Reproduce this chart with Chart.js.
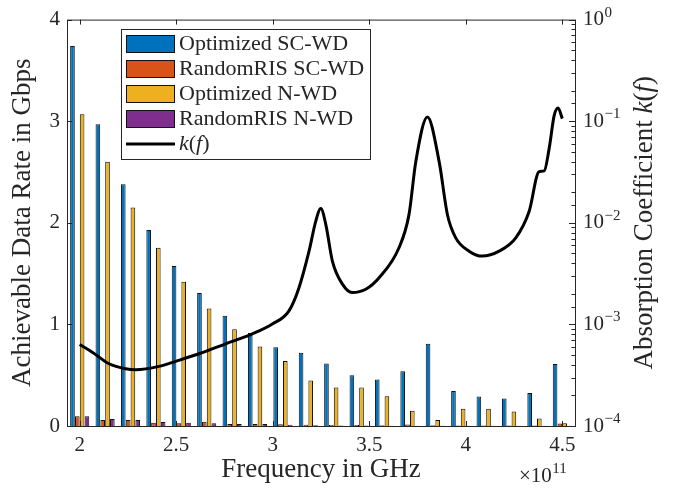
<!DOCTYPE html>
<html>
<head>
<meta charset="utf-8">
<script src="https://cdn.jsdelivr.net/npm/chart.js@4/dist/chart.umd.min.js"></script>
<style>
  html, body { margin: 0; padding: 0; background: #fff; }
</style>
</head>
<body>
<canvas id="rateChart" width="683" height="490"></canvas>
<script>
// bar groups (Hz)
var frequencies = [2.0000e11, 2.1316e11, 2.2632e11, 2.3947e11, 2.5263e11, 2.6579e11, 2.7895e11,
                   2.9211e11, 3.0526e11, 3.1842e11, 3.3158e11, 3.4474e11, 3.5789e11, 3.7105e11,
                   3.8421e11, 3.9737e11, 4.1053e11, 4.2368e11, 4.3684e11, 4.5000e11];
var optSCWD  = [3.74, 2.97, 2.38, 1.93, 1.575, 1.31, 1.086, 0.916, 0.776, 0.72,
                0.616, 0.50, 0.457, 0.538, 0.81, 0.345, 0.29, 0.27, 0.326, 0.61];
var randSCWD = [0.095, 0.06, 0.06, 0.033, 0.026, 0.042, 0.02, 0.02, 0.016, 0.013,
                0.01, 0.01, 0.008, 0.015, 0.008, 0.005, 0.005, 0.005, 0.006, 0.025];
var optNWD   = [3.068, 2.60, 2.15, 1.754, 1.421, 1.157, 0.952, 0.782, 0.639, 0.447,
                0.378, 0.378, 0.293, 0.15, 0.059, 0.17, 0.17, 0.143, 0.075, 0.026];
var randNWD  = [0.097, 0.068, 0.059, 0.039, 0.033, 0.026, 0.02, 0.02, 0.013, 0.007,
                0.004, 0.004, 0.003, 0.002, 0.002, 0.002, 0.002, 0.002, 0.002, 0.003];

// absorption coefficient curve k(f)
var kFreq = [2.000e11, 2.065e11, 2.152e11, 2.238e11, 2.290e11, 2.411e11, 2.497e11, 2.618e11,
             2.756e11, 2.894e11, 2.998e11, 3.084e11, 3.136e11, 3.188e11, 3.223e11, 3.249e11,
             3.275e11, 3.309e11, 3.361e11, 3.412e11, 3.482e11, 3.551e11, 3.654e11, 3.706e11,
             3.741e11, 3.801e11, 3.862e11, 3.905e11, 3.948e11, 4.017e11, 4.086e11, 4.173e11,
             4.259e11, 4.328e11, 4.380e11, 4.406e11, 4.432e11, 4.458e11, 4.478e11, 4.500e11];
var kValue = [6.34e-4, 5.33e-4, 4.10e-4, 3.66e-4, 3.58e-4, 3.86e-4, 4.33e-4, 5.14e-4,
              6.44e-4, 8.07e-4, 1.01e-3, 1.36e-3, 2.30e-3, 5.26e-3, 1.04e-2, 1.38e-2,
              9.6e-3, 4.2e-3, 2.49e-3, 2.06e-3, 2.22e-3, 2.88e-3, 5.68e-3, 1.21e-2,
              4.0e-2, 0.110, 4.0e-2, 1.20e-2, 7.1e-3, 5.26e-3, 4.70e-3, 5.26e-3,
              7.1e-3, 1.29e-2, 3.19e-2, 3.24e-2, 5.4e-2, 0.114, 0.135, 0.106];

var xTicks = [2e11, 2.5e11, 3e11, 3.5e11, 4e11, 4.5e11];
var kExponents = [0, -1, -2, -3, -4];

var FONT = '"Liberation Serif", "Times New Roman", serif';
var INK = '#262626';

function pts(xs, ys) {
    return xs.map(function(x, i) { return {x: x, y: ys[i]}; });
}

function barSet(label, color, values) {
    return {
        type: 'bar', label: label, data: pts(frequencies, values),
        backgroundColor: color, borderColor: '#111', borderWidth: 1,
        categoryPercentage: 0.76, barPercentage: 0.96,
        yAxisID: 'y', order: 1
    };
}

// draws text pieces, some italic, left to right
function mathText(ctx, parts, x, y, size) {
    parts.forEach(function(p) {
        ctx.font = (p[1] ? 'italic ' : '') + size + 'px ' + FONT;
        ctx.fillText(p[0], x, y);
        x += ctx.measureText(p[0]).width;
    });
    return x;
}
function mathWidth(ctx, parts, size) {
    var w = 0;
    parts.forEach(function(p) {
        ctx.font = (p[1] ? 'italic ' : '') + size + 'px ' + FONT;
        w += ctx.measureText(p[0]).width;
    });
    return w;
}
var kParts = [['k', true], ['(', false], ['f', true], [')', false]];

var decor = {
    id: 'decor',
    afterDatasetsDraw: function(chart) {
        var ctx = chart.ctx, a = chart.chartArea;
        var sx = chart.scales.x, sy = chart.scales.y, sy1 = chart.scales.y1;
        ctx.save();
        ctx.strokeStyle = INK;
        ctx.lineWidth = 1;
        ctx.beginPath();
        sx.ticks.forEach(function(t) {
            var px = Math.round(sx.getPixelForValue(t.value)) + 0.5;
            ctx.moveTo(px, a.bottom); ctx.lineTo(px, a.bottom - 5);
            ctx.moveTo(px, a.top); ctx.lineTo(px, a.top + 5);
        });
        sy.ticks.forEach(function(t) {
            var py = Math.round(sy.getPixelForValue(t.value)) + 0.5;
            ctx.moveTo(a.left, py); ctx.lineTo(a.left + 5, py);
        });
        sy1.ticks.forEach(function(t) {
            var lg = Math.log10(t.value);
            var major = Math.abs(lg - Math.round(lg)) < 1e-6;
            var py = Math.round(sy1.getPixelForValue(t.value)) + 0.5;
            ctx.moveTo(a.right, py); ctx.lineTo(a.right - (major ? 6 : 3.5), py);
        });
        ctx.stroke();
        ctx.strokeRect(a.left + 0.5, a.top + 0.5, a.right - a.left, a.bottom - a.top);

        // right axis labels 10^n
        ctx.fillStyle = INK;
        ctx.textAlign = 'left';
        ctx.textBaseline = 'middle';
        kExponents.forEach(function(e) {
            var py = sy1.getPixelForValue(Math.pow(10, e));
            ctx.font = '21px ' + FONT;
            ctx.fillText('10', a.right + 8, py);
            var w = ctx.measureText('10').width;
            ctx.font = '15px ' + FONT;
            ctx.fillText(e === 0 ? '0' : '\u2212' + (-e), a.right + 8 + w + 0.5, py - 7);
        });

        // x10^11 multiplier
        ctx.font = '21px ' + FONT;
        ctx.fillText('\u00d710', 519, 476);
        var mw = ctx.measureText('\u00d710').width;
        ctx.font = '15px ' + FONT;
        ctx.fillText('11', 519 + mw + 0.5, 469);

        // right axis title
        var title = [['Absorption Coefficient ', false]].concat(kParts);
        ctx.save();
        ctx.translate(645, (a.top + a.bottom) / 2);
        ctx.rotate(-Math.PI / 2);
        var tw = mathWidth(ctx, title, 27);
        mathText(ctx, title, -tw / 2, 0, 27);
        ctx.restore();

        // legend box
        var lx = 121.5, ly = 29.5, lw = 249, lh = 130;
        ctx.fillStyle = '#fff';
        ctx.fillRect(lx, ly, lw, lh);
        ctx.strokeStyle = INK;
        ctx.strokeRect(lx, ly, lw, lh);
        chart.data.datasets.forEach(function(ds, i) {
            var cy = 44 + i * 25;
            if (ds.type === 'line') {
                ctx.strokeStyle = ds.borderColor;
                ctx.lineWidth = 3;
                ctx.beginPath();
                ctx.moveTo(126, cy); ctx.lineTo(175, cy);
                ctx.stroke();
                ctx.fillStyle = INK;
                mathText(ctx, kParts, 179, cy, 22);
            } else {
                ctx.fillStyle = ds.backgroundColor;
                ctx.fillRect(126, cy - 9, 49, 18);
                ctx.strokeStyle = '#111';
                ctx.lineWidth = 1;
                ctx.strokeRect(126.5, cy - 8.5, 48, 17);
                ctx.fillStyle = INK;
                ctx.font = '22px ' + FONT;
                ctx.fillText(ds.label, 179, cy);
            }
        });
        ctx.restore();
    }
};

var config = {
    type: 'bar',
    data: {
        datasets: [
            barSet('Optimized SC-WD', '#0072BD', optSCWD),
            barSet('RandomRIS SC-WD', '#D95319', randSCWD),
            barSet('Optimized N-WD', '#EDB120', optNWD),
            barSet('RandomRIS N-WD', '#7E2F8E', randNWD),
            {
                type: 'line', label: 'k(f)', data: pts(kFreq, kValue),
                borderColor: '#000', borderWidth: 3, pointRadius: 0,
                cubicInterpolationMode: 'monotone', yAxisID: 'y1', order: 0
            }
        ]
    },
    options: {
        responsive: false,
        animation: false,
        layout: { padding: { top: 17, left: 0, right: 0, bottom: 0 } },
        plugins: { legend: { display: false }, tooltip: { enabled: false } },
        scales: {
            x: {
                type: 'linear', min: 1.9342e11, max: 4.5658e11, offset: false,
                grid: { display: false, drawTicks: false }, border: { display: false },
                afterBuildTicks: function(s) { s.ticks = xTicks.map(function(v) { return {value: v}; }); },
                afterFit: function(s) { s.height = 64; },
                ticks: {
                    padding: 7, color: INK, maxRotation: 0, autoSkip: false,
                    font: { family: FONT, size: 21 },
                    callback: function(v) { return String(+(v / 1e11).toFixed(1)); }
                },
                title: {
                    display: true, text: 'Frequency in GHz', color: INK,
                    font: { family: FONT, size: 27 }, padding: { top: 0, bottom: 4 }
                }
            },
            y: {
                position: 'left', min: 0, max: 4,
                grid: { display: false, drawTicks: false }, border: { display: false },
                afterFit: function(s) { s.width = 67; },
                ticks: { stepSize: 1, padding: 7, color: INK, font: { family: FONT, size: 21 } },
                title: {
                    display: true, text: 'Achievable Data Rate in Gbps', color: INK,
                    font: { family: FONT, size: 27 }, padding: { top: 7, bottom: 0 }
                }
            },
            y1: {
                type: 'logarithmic', position: 'right', min: 1e-4, max: 1,
                grid: { display: false, drawTicks: false }, border: { display: false },
                afterFit: function(s) { s.width = 108; },
                ticks: { display: false }
            }
        }
    },
    plugins: [decor]
};

var chart = new Chart(document.getElementById('rateChart').getContext('2d'), config);
</script>
</body>
</html>
